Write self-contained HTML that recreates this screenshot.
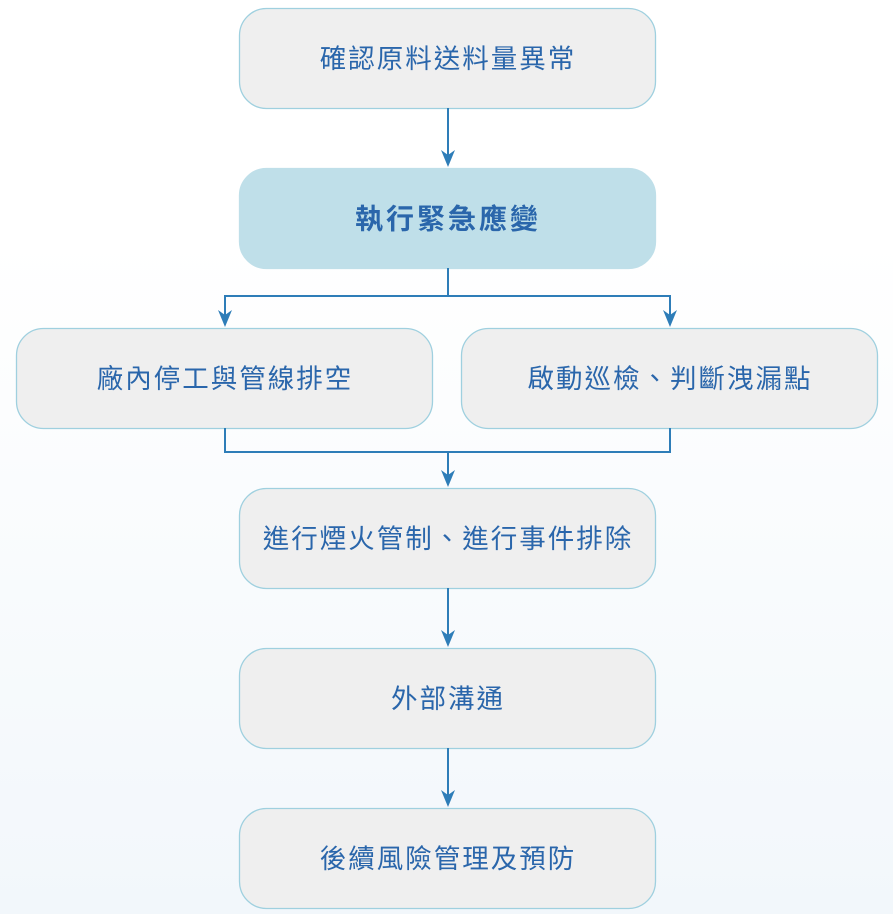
<!DOCTYPE html>
<html><head><meta charset="utf-8"><style>
html,body{margin:0;padding:0;}
body{width:893px;height:914px;background:linear-gradient(to bottom,#ffffff 0px,#ffffff 240px,#f2f7fb 914px);overflow:hidden;}
svg text{font-family:"Liberation Sans","Noto Sans CJK TC",sans-serif;font-size:26.5px;fill:#2a66ab;text-anchor:middle;dominant-baseline:central;letter-spacing:2px;}
</style></head><body>
<svg width="893" height="914" viewBox="0 0 893 914" xmlns="http://www.w3.org/2000/svg">
<g fill="#efefef" stroke="#9fd0df" stroke-width="1.3">
<rect x="239.5" y="8.5" width="416" height="100" rx="27"/>
<rect x="239.5" y="168.5" width="416" height="100" rx="27" fill="#bfdfe9" stroke="#bfdfe9"/>
<rect x="16.5" y="328.5" width="416" height="100" rx="27"/>
<rect x="461.5" y="328.5" width="416" height="100" rx="27"/>
<rect x="239.5" y="488.5" width="416" height="100" rx="27"/>
<rect x="239.5" y="648.5" width="416" height="100" rx="27"/>
<rect x="239.5" y="808.5" width="416" height="100" rx="27"/>
</g>
<g stroke="#2e7db8" stroke-width="2" fill="none">
<line x1="448" y1="108" x2="448" y2="160"/>
<polyline points="448,268 448,296 225,296 225,320"/>
<polyline points="448,296 670,296 670,320"/>
<polyline points="225,428 225,452 670,452 670,428"/>
<line x1="448" y1="452" x2="448" y2="480"/>
<line x1="448" y1="588" x2="448" y2="640"/>
<line x1="448" y1="748" x2="448" y2="800"/>
</g>
<g fill="#2e7db8">
<path d="M441,150 L448,167 L455,150 L448,155 Z"/>
<path d="M218,310 L225,327 L232,310 L225,315 Z"/>
<path d="M663,310 L670,327 L677,310 L670,315 Z"/>
<path d="M441,470 L448,487 L455,470 L448,475 Z"/>
<path d="M441,630 L448,647 L455,630 L448,635 Z"/>
<path d="M441,790 L448,807 L455,790 L448,795 Z"/>
</g>
<text x="448" y="59">確認原料送料量異常</text>
<text x="448" y="219" style="font-weight:bold;font-size:28px;letter-spacing:3px">執行緊急應變</text>
<text x="225" y="379">廠內停工與管線排空</text>
<text x="670" y="379">啟動巡檢、判斷洩漏點</text>
<text x="448" y="539">進行煙火管制、進行事件排除</text>
<text x="448" y="699">外部溝通</text>
<text x="448" y="859">後續風險管理及預防</text>
</svg>
</body></html>
